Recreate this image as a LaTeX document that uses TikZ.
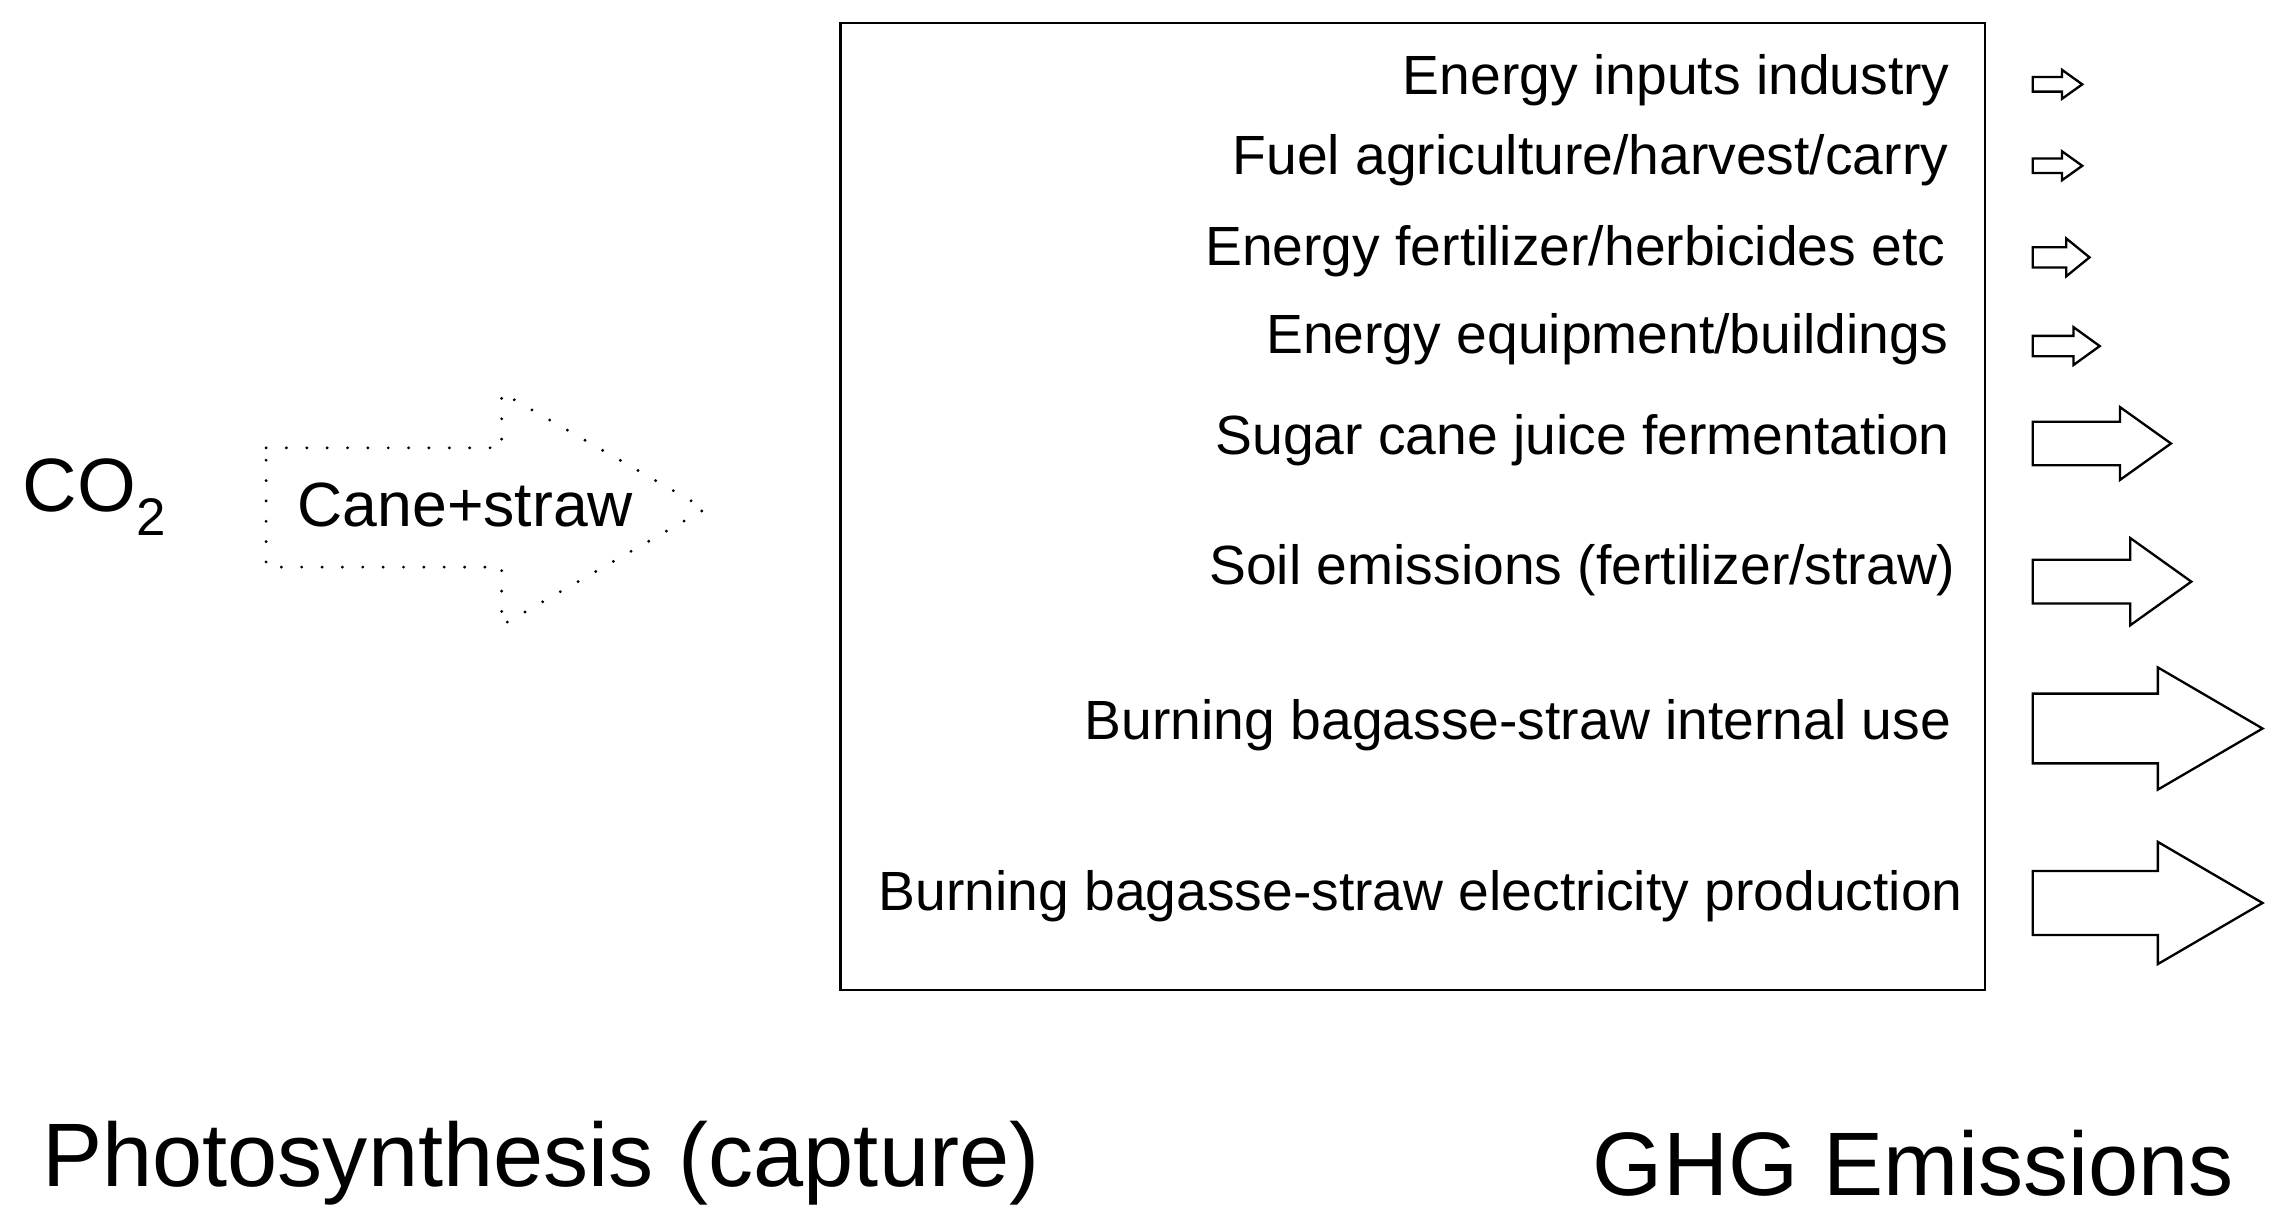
\documentclass[tikz,border=0pt]{standalone}
\usepackage{fontspec}
\setmainfont{Liberation Sans}
\newcommand{\blkarrow}[6]{% x0, y, length, shaft half, head half, head length
  \draw[line width=1.6pt,line join=miter] (#1,#2-#4) -- (#1+#3-#6,#2-#4) -- (#1+#3-#6,#2-#5) -- (#1+#3,#2) -- (#1+#3-#6,#2+#5) -- (#1+#3-#6,#2+#4) -- (#1,#2+#4) -- cycle;}
\begin{document}
\begin{tikzpicture}[x=1pt,y=-1pt,
  lbl/.style={anchor=east,inner sep=0pt,font=\fontsize{38}{40}\selectfont},
  big/.style={inner sep=0pt,font=\fontsize{62}{66}\selectfont}]
\useasboundingbox (0,0) rectangle (1568,846);
\draw[line width=1.6pt] (578,16) rectangle (1365,681);
\node[lbl] (t1) at (1341,55) {Energy inputs industry};
\node[lbl] (t2) at (1340,110) {Fuel agriculture/harvest/carry};
\node[lbl] (t3) at (1338,173) {Energy fertilizer/herbicides etc};
\node[lbl] (t4) at (1340,233) {Energy equipment/buildings};
\node[lbl] (t5) at (1341,303) {Sugar cane juice fermentation};
\node[lbl] (t6) at (1345,392) {Soil emissions (fertilizer/straw)};
\node[lbl] (t7) at (1342,499) {Burning bagasse-straw internal use};
\node[lbl] (t8) at (1350,616) {Burning bagasse-straw electricity production};
\blkarrow{1398}{58}{34}{5}{10}{14}
\blkarrow{1398}{114}{34}{5}{10}{14}
\blkarrow{1398}{177}{39}{7}{13}{16}
\blkarrow{1398}{238}{46}{7}{13}{18}
\blkarrow{1398}{305}{95}{15}{25}{35}
\blkarrow{1398}{400}{109}{15}{30}{42}
\blkarrow{1398}{501}{158}{24}{42}{72}
\blkarrow{1398}{621}{158}{22}{42}{72}
\draw[line width=2.2pt,line cap=round,dash pattern=on 0pt off 14pt]
  (183,308) -- (345,308) -- (345,270) -- (485,350) -- (345,430) -- (345,390) -- (183,390) -- cycle;
\node[inner sep=0pt,font=\fontsize{43}{45}\selectfont] (cs) at (320,347) {Cane+straw};
\node[inner sep=0pt,font=\fontsize{52}{54}\selectfont] (co2) at (65,342) {CO\textsubscript{2}};
\node[big] (ph) at (372,800) {Photosynthesis (capture)};
\node[big] (ghg) at (1316,800) {GHG Emissions};
\end{tikzpicture}
\end{document}
